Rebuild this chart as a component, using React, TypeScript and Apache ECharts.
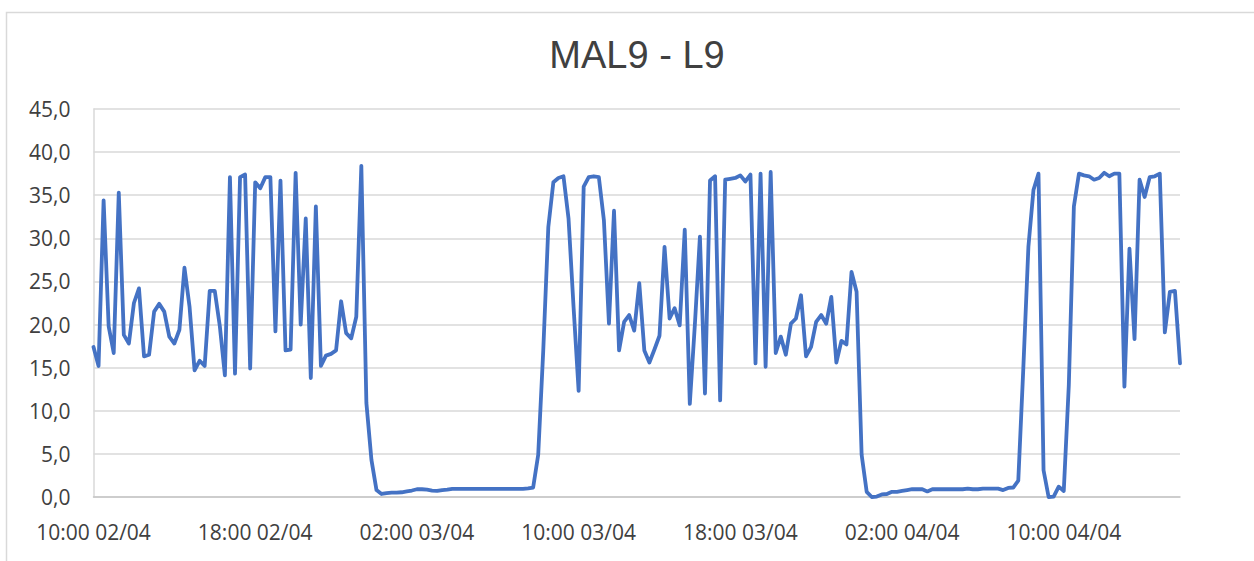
import React, { useEffect, useRef } from "react";
import * as echarts from "echarts";

// Time axis: 15-minute samples starting 10:00 02/04
const START_MINUTES = 10 * 60;
const STEP_MINUTES = 15;
const SAMPLE_COUNT = 216;
const categories: string[] = Array.from({ length: SAMPLE_COUNT }, (_, i) => {
  const m = START_MINUTES + STEP_MINUTES * i;
  const day = 2 + Math.floor(m / 1440);
  const hh = Math.floor((m % 1440) / 60);
  const mm = m % 60;
  const p = (n: number) => (n < 10 ? "0" + n : "" + n);
  return `${p(hh)}:${p(mm)} ${p(day)}/04`;
});

// Series values
const day1 = [
  17.4, 15.2, 34.4, 19.8, 16.7, 35.3, 18.8, 17.8, 22.5, 24.2,
  16.3, 16.5, 21.5, 22.4, 21.5, 18.6, 17.8, 19.4, 26.6, 22.1,
  14.7, 15.8, 15.2, 23.9, 23.9, 19.8, 14.1, 37.1, 14.3, 37.1,
  37.4, 14.9, 36.5, 35.8, 37.1, 37.1, 19.2, 36.7, 17.0, 17.1,
  37.6, 20.0, 32.3, 13.8, 33.7, 15.2, 16.4, 16.6, 17.0, 22.7,
  19.0, 18.4, 20.9, 38.4, 10.9, 4.3,
];
const night1 = [
  0.8, 0.35, 0.45, 0.5, 0.5, 0.55, 0.65, 0.75, 0.9, 0.9,
  0.85, 0.75, 0.7, 0.8, 0.85, 0.95, 0.95, 0.95, 0.95, 0.95,
  0.95, 0.95, 0.95, 0.95, 0.95, 0.95, 0.95, 0.95, 0.95, 0.95,
  1.0, 1.1,
];
const day2 = [
  4.9, 17.0, 31.3, 36.5, 37.0, 37.2, 32.3, 22.0, 12.3, 36.0,
  37.1, 37.2, 37.1, 32.1, 20.1, 33.2, 17.0, 20.3, 21.1, 19.3,
  24.8, 17.0, 15.6, 17.1, 18.7, 29.0, 20.7, 21.9, 19.9, 31.0,
  10.8, 20.0, 30.2, 12.0, 36.7, 37.2, 11.2, 36.8, 36.9, 37.0,
  37.3, 36.6, 37.4, 15.5, 37.5, 15.1, 37.7, 16.7, 18.6, 16.5,
  20.1, 20.7, 23.4, 16.3, 17.4, 20.3, 21.1, 20.1, 23.2, 15.6,
  18.1, 17.7, 26.1, 23.8, 4.9,
];
const night2 = [
  0.6, 0.0, 0.05, 0.3, 0.35, 0.6, 0.6, 0.7, 0.8, 0.9,
  0.9, 0.9, 0.65, 0.9, 0.9, 0.9, 0.9, 0.9, 0.9, 0.9,
  0.97, 0.9, 0.9, 0.97, 0.97, 0.97, 0.97, 0.8, 1.05, 1.1,
  1.9, 15.0,
];
const day3 = [
  29.0, 35.6, 37.5, 3.1, 0.0, 0.05, 1.2, 0.7, 13.0, 33.7,
  37.5, 37.3, 37.2, 36.8, 37.0, 37.6, 37.2, 37.5, 37.5, 12.8,
  28.8, 18.3, 36.8, 34.8, 37.1, 37.2, 37.5, 19.1, 23.8, 23.9,
  15.5,
];
const values: number[] = [...day1, ...night1, ...day2, ...night2, ...day3];

const TITLE = "MAL9 - L9";
const Y_MIN = 0;
const Y_MAX = 45;
const Y_STEP = 5;
const LABEL_EVERY = 32; // 8 hours

export default function App() {
  const ref = useRef<HTMLDivElement>(null);
  useEffect(() => {
    if (!ref.current) return;
    const chart = echarts.init(ref.current, undefined, { renderer: "svg" });
    const textColor = "#404040";
    chart.setOption({
      animation: false,
      backgroundColor: "#ffffff",
      title: {
        text: TITLE,
        left: 632,
        top: 31,
        textAlign: "center",
        textStyle: {
          fontFamily: "Liberation Sans",
          fontSize: 38,
          fontWeight: "normal",
          color: textColor,
        },
      },
      graphic: [
        {
          type: "rect",
          silent: true,
          shape: { x: 6.5, y: 12.5, width: 1400, height: 700 },
          style: { fill: "none", stroke: "#d9d9d9", lineWidth: 1.5 },
        },
      ],
      grid: { left: 93.5, right: 74, top: 109, bottom: 64 },
      xAxis: {
        type: "category",
        data: categories,
        boundaryGap: false,
        axisLine: { show: true, lineStyle: { color: "#c6c6c6", width: 1.5 } },
        axisTick: { show: false },
        axisLabel: {
          interval: LABEL_EVERY - 1,
          margin: 24,
          fontFamily: "Open Sans",
          fontSize: 21,
          color: textColor,
        },
        splitLine: { show: false },
      },
      yAxis: {
        type: "value",
        min: Y_MIN,
        max: Y_MAX,
        interval: Y_STEP,
        axisLine: { show: true, lineStyle: { color: "#d9d9d9", width: 1.5 } },
        axisTick: { show: false },
        axisLabel: {
          margin: 23,
          fontFamily: "Open Sans",
          fontSize: 21,
          color: textColor,
          formatter: (v: number) => v.toFixed(1).replace(".", ","),
        },
        splitLine: { show: true, lineStyle: { color: "#d9d9d9", width: 1.5 } },
      },
      series: [
        {
          type: "line",
          data: values,
          symbol: "none",
          showSymbol: false,
          lineStyle: { color: "#4472C4", width: 3.8, join: "round", cap: "round" },
        },
      ],
    });
    return () => chart.dispose();
  }, []);
  return (
    <div
      ref={ref}
      style={{ position: "fixed", left: 0, top: 0, width: 1254, height: 561 }}
    />
  );
}
